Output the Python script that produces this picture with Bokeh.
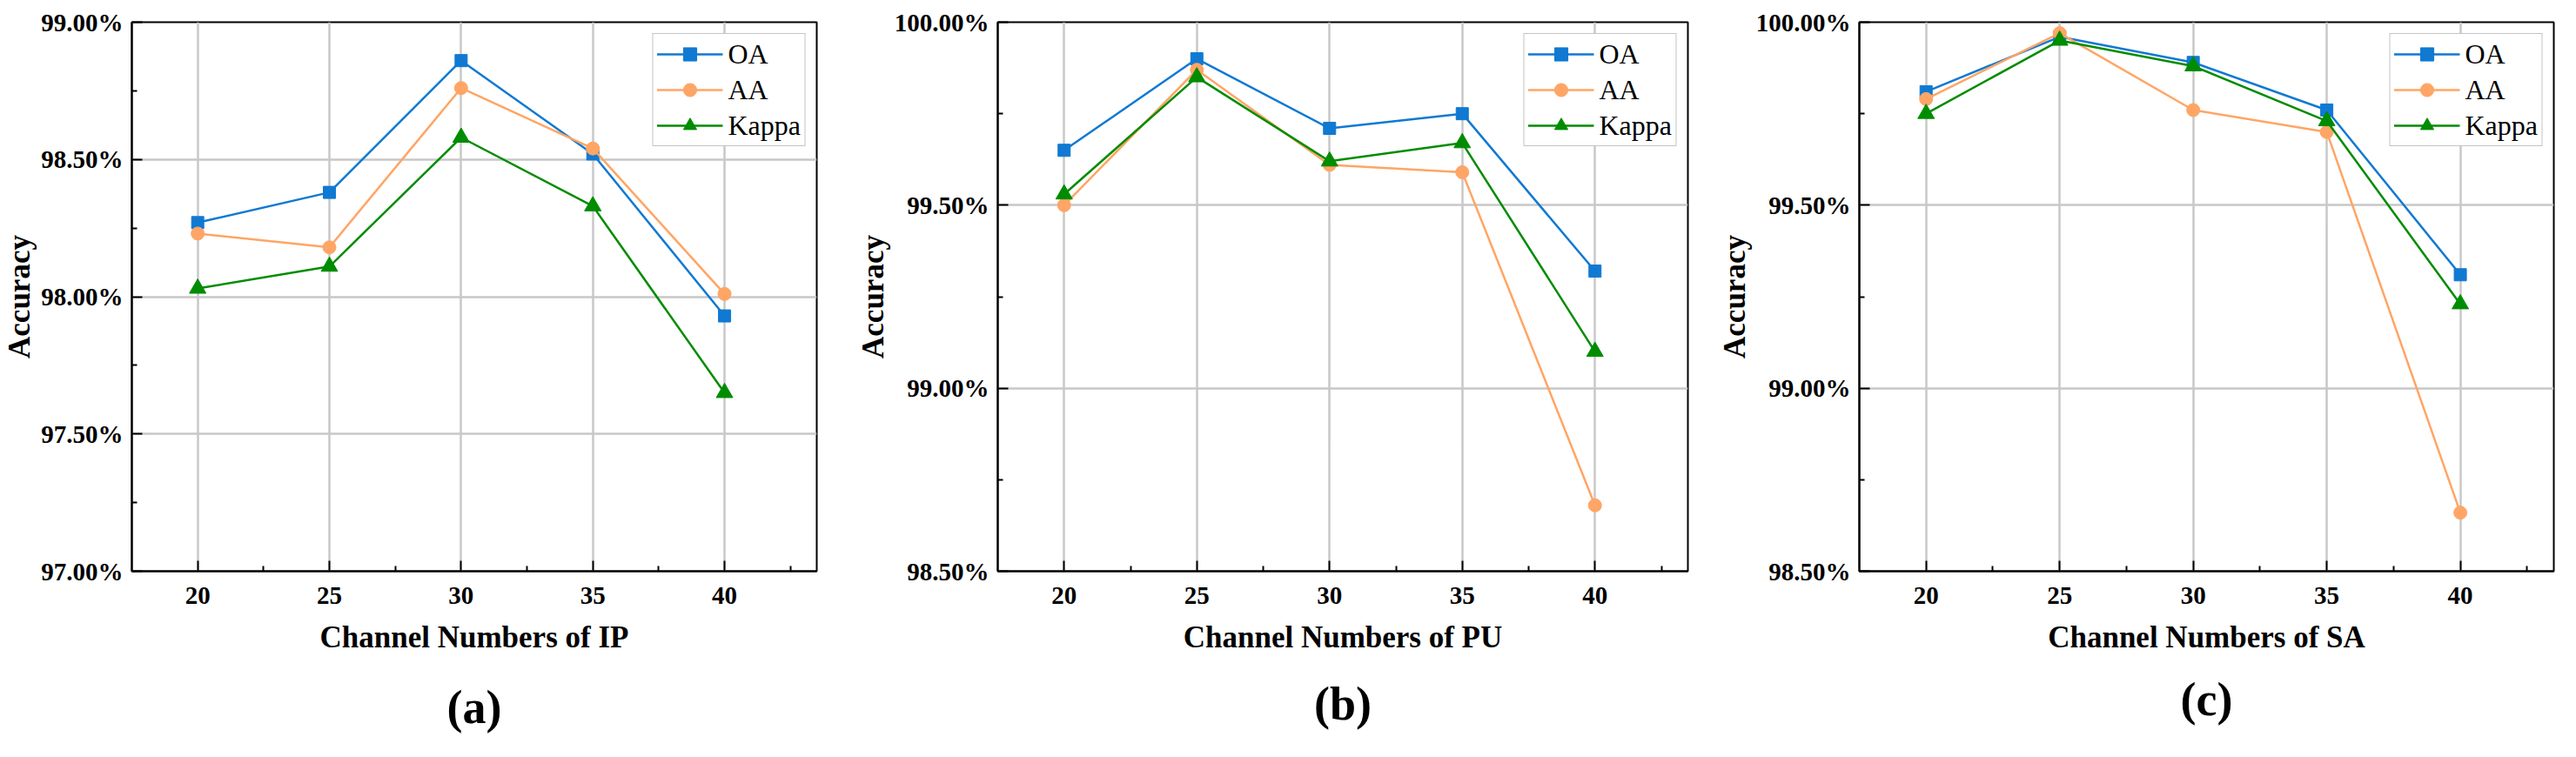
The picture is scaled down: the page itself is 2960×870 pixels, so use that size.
from bokeh.plotting import figure
from bokeh.layouts import row
from bokeh.models import FixedTicker, PrintfTickFormatter, LinearAxis, Range1d
from bokeh.embed import file_html
from bokeh.resources import INLINE

# channel numbers on the x axis
channels = [20, 25, 30, 35, 40]
x_minor = [22.5, 27.5, 32.5, 37.5, 42.5]

# (a) Indian Pines
ip_oa = [98.27, 98.38, 98.86, 98.52, 97.93]
ip_aa = [98.23, 98.18, 98.76, 98.54, 98.01]
ip_kappa = [98.03, 98.11, 98.58, 98.33, 97.65]
ip_yticks = [97.0, 97.5, 98.0, 98.5, 99.0]
ip_yminor = [97.25, 97.75, 98.25, 98.75]

# (b) Pavia University
pu_oa = [99.65, 99.90, 99.71, 99.75, 99.32]
pu_aa = [99.50, 99.87, 99.61, 99.59, 98.68]
pu_kappa = [99.53, 99.85, 99.62, 99.67, 99.10]
pu_yticks = [98.5, 99.0, 99.5, 100.0]
pu_yminor = [98.75, 99.25, 99.75]

# (c) Salinas
sa_oa = [99.81, 99.96, 99.89, 99.76, 99.31]
sa_aa = [99.79, 99.97, 99.76, 99.70, 98.66]
sa_kappa = [99.75, 99.95, 99.88, 99.73, 99.23]
sa_yticks = [98.5, 99.0, 99.5, 100.0]
sa_yminor = [98.75, 99.25, 99.75]

FONT = "Liberation Serif"
BLUE = "#1079d2"
ORANGE = "#ffa565"
GREEN = "#008c00"


def panel(oa, aa, kappa, yticks, yminor, xlabel, tag, width, borders, tag_gap):
    left, right, top, bottom = borders
    p = figure(width=width, height=854, output_backend="svg", toolbar_location=None,
               x_range=Range1d(17.5, 43.5), y_range=Range1d(yticks[0], yticks[-1]),
               min_border_left=left, min_border_right=right, min_border_top=top,
               min_border_bottom=bottom)
    p.outline_line_color = "black"
    p.outline_line_width = 2

    for ax in (p.xaxis[0], p.yaxis[0]):
        ax.axis_line_width = 2
        ax.axis_line_color = "black"
        ax.major_tick_in = 12
        ax.major_tick_out = 0
        ax.minor_tick_in = 6
        ax.minor_tick_out = 0
        ax.major_tick_line_width = 2
        ax.minor_tick_line_width = 2
        ax.major_tick_line_color = "black"
        ax.minor_tick_line_color = "black"
        ax.major_label_text_font = FONT
        ax.major_label_text_font_style = "bold"
        ax.major_label_text_font_size = "29px"
        ax.major_label_text_color = "black"
        ax.axis_label_text_font = FONT
        ax.axis_label_text_font_style = "bold"
        ax.axis_label_text_font_size = "35px"
        ax.axis_label_text_color = "black"

    p.xaxis.ticker = FixedTicker(ticks=channels, minor_ticks=x_minor)
    p.yaxis.ticker = FixedTicker(ticks=yticks, minor_ticks=yminor)
    p.yaxis.formatter = PrintfTickFormatter(format="%.2f%%")
    p.xaxis.major_label_standoff = 18
    p.yaxis.major_label_standoff = 10
    p.xaxis.axis_label = xlabel
    p.yaxis.axis_label = "Accuracy"
    p.xaxis.axis_label_standoff = 16
    p.yaxis.axis_label_standoff = 2

    # bare axis under the x axis, only carrying the panel tag "(a)" etc.
    tag_axis = LinearAxis(ticker=FixedTicker(ticks=[]), axis_line_color=None,
                          major_tick_line_color=None, minor_tick_line_color=None,
                          major_tick_out=0, minor_tick_out=0, major_label_standoff=0,
                          axis_label=tag, axis_label_standoff=tag_gap,
                          axis_label_text_font=FONT, axis_label_text_font_size="54px",
                          axis_label_text_font_style="bold", axis_label_text_color="black")
    p.add_layout(tag_axis, "below")

    p.xgrid.ticker = FixedTicker(ticks=channels)
    p.ygrid.ticker = FixedTicker(ticks=yticks)
    p.grid.grid_line_color = "#c8c8c8"
    p.grid.grid_line_width = 2.5

    p.line(channels, oa, color=BLUE, line_width=2.5, legend_label="OA")
    p.scatter(channels, oa, marker="square", size=14, color=BLUE, legend_label="OA")
    p.line(channels, aa, color=ORANGE, line_width=2.5, legend_label="AA")
    p.scatter(channels, aa, marker="circle", size=15, color=ORANGE, legend_label="AA")
    p.line(channels, kappa, color=GREEN, line_width=2.5, legend_label="Kappa")
    p.scatter(channels, kappa, marker="triangle", size=19, color=GREEN, legend_label="Kappa")

    lg = p.legend[0]
    lg.location = "top_right"
    lg.margin = 13
    lg.padding = 4
    lg.spacing = 3
    lg.glyph_width = 76
    lg.glyph_height = 38
    lg.label_height = 38
    lg.label_standoff = 6
    lg.label_text_font = FONT
    lg.label_text_font_size = "32px"
    lg.label_text_color = "black"
    lg.border_line_color = "#8a8a8a"
    lg.border_line_width = 1.5
    lg.background_fill_alpha = 1
    return p


pa = panel(ip_oa, ip_aa, ip_kappa, ip_yticks, ip_yminor, "Channel Numbers of IP", "(a)",
           980, (151, 42, 25, 198), 28)
pb = panel(pu_oa, pu_aa, pu_kappa, pu_yticks, pu_yminor, "Channel Numbers of PU", "(b)",
           988, (166, 29, 24, 194), 24)
pc = panel(sa_oa, sa_aa, sa_kappa, sa_yticks, sa_yminor, "Channel Numbers of SA", "(c)",
           976, (168, 10, 19, 189), 19)

layout = row(pa, pb, pc)
open("out.html", "w").write(file_html(layout, INLINE))
